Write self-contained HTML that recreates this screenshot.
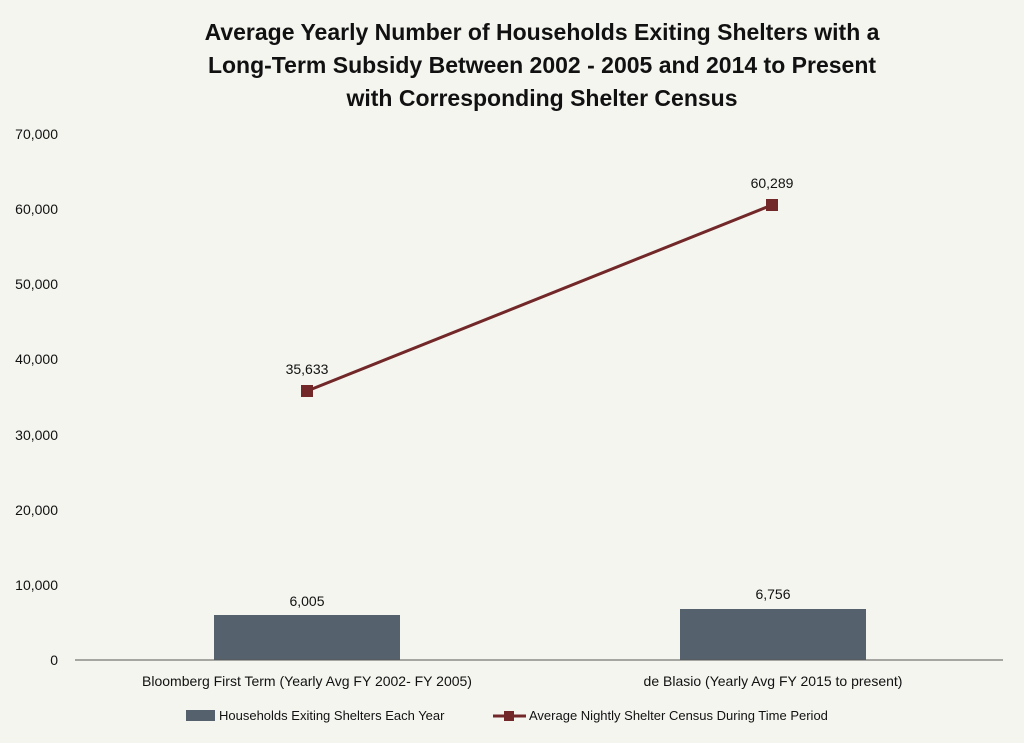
<!DOCTYPE html>
<html><head><meta charset="utf-8"><style>
html,body{margin:0;padding:0;background:#f5f5f0;}
svg{display:block;}
text{font-family:"Liberation Sans",sans-serif;fill:#111;}
</style></head><body>
<svg width="1024" height="743" viewBox="0 0 1024 743" xmlns="http://www.w3.org/2000/svg">
<rect width="1024" height="743" fill="#f5f5f0"/>
<g font-weight="bold" font-size="23" text-anchor="middle">
<text x="542" y="40">Average Yearly Number of Households Exiting Shelters with a</text>
<text x="542" y="73">Long-Term Subsidy Between 2002 - 2005 and 2014 to Present</text>
<text x="542" y="106">with Corresponding Shelter Census</text>
</g>
<g font-size="14" text-anchor="end">
<text x="58" y="139">70,000</text>
<text x="58" y="214">60,000</text>
<text x="58" y="289">50,000</text>
<text x="58" y="364">40,000</text>
<text x="58" y="440">30,000</text>
<text x="58" y="515">20,000</text>
<text x="58" y="590">10,000</text>
<text x="58" y="665">0</text>
</g>
<rect x="214" y="615" width="186" height="45" fill="#55626e"/>
<rect x="680" y="609" width="186" height="51" fill="#55626e"/>
<line x1="75" y1="660" x2="1003" y2="660" stroke="#555" stroke-width="1"/>
<line x1="307" y1="391" x2="772" y2="205" stroke="#722828" stroke-width="3"/>
<rect x="301" y="385" width="12" height="12" fill="#722828"/>
<rect x="766" y="199" width="12" height="12" fill="#722828"/>
<g font-size="14" text-anchor="middle">
<text x="307" y="606">6,005</text>
<text x="773" y="599">6,756</text>
<text x="307" y="374">35,633</text>
<text x="772" y="188">60,289</text>
<text x="307" y="686">Bloomberg First Term (Yearly Avg FY 2002- FY 2005)</text>
<text x="773" y="686">de Blasio (Yearly Avg FY 2015 to present)</text>
</g>
<rect x="186" y="710" width="29" height="11" fill="#55626e"/>
<text x="219" y="720" font-size="13">Households Exiting Shelters Each Year</text>
<line x1="493" y1="716" x2="526" y2="716" stroke="#722828" stroke-width="3"/>
<rect x="504" y="711" width="10" height="10" fill="#722828"/>
<text x="529" y="720" font-size="13">Average Nightly Shelter Census During Time Period</text>
</svg>
</body></html>
